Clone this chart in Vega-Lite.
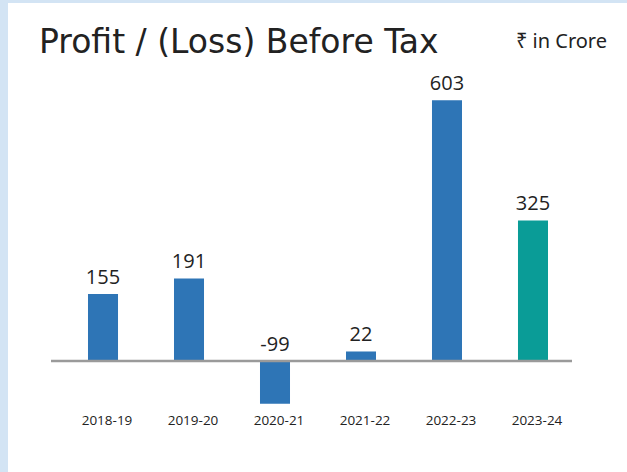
{
  "$schema": "https://vega.github.io/schema/vega-lite/v6.json",
  "width": 619,
  "height": 469,
  "autosize": {"type": "none"},
  "padding": {"left": 8, "top": 3, "right": 0, "bottom": 0},
  "background": "#d3e4f4",
  "config": {"view": {"fill": "white", "stroke": null}},
  "title": {
    "text": "Profit / (Loss) Before Tax",
    "anchor": "start",
    "frame": "group",
    "font": "DejaVu Sans",
    "fontSize": 33,
    "fontWeight": "normal",
    "color": "#222222",
    "dx": 31,
    "offset": -83,
    "baseline": "alphabetic"
  },
  "layer": [
    {
      "data": {
        "values": [
          {"year": "2018-19", "value": 155},
          {"year": "2019-20", "value": 191},
          {"year": "2020-21", "value": -99},
          {"year": "2021-22", "value": 22},
          {"year": "2022-23", "value": 603},
          {"year": "2023-24", "value": 325}
        ]
      },
      "encoding": {
        "x": {
          "field": "year",
          "type": "nominal",
          "sort": null,
          "scale": {"range": [37, 583], "paddingInner": 0.651, "paddingOuter": 0.5},
          "axis": {
            "orient": "bottom",
            "title": null,
            "labelAngle": 0,
            "ticks": false,
            "domain": false,
            "labelFont": "Open Sans",
            "labelFontSize": 13.5,
            "labelColor": "#222222",
            "labelPadding": 5,
            "labelOffset": 4,
            "offset": -64
          }
        }
      },
      "layer": [
        {
          "mark": {"type": "bar"},
          "encoding": {
            "y": {
              "field": "value",
              "type": "quantitative",
              "scale": {"domain": [0, 600], "range": [358, 98.5], "nice": false},
              "axis": null
            },
            "y2": {"datum": 0},
            "color": {
              "condition": {"test": "datum.year === '2023-24'", "value": "#0A9C97"},
              "value": "#2E75B6"
            }
          }
        },
        {
          "transform": [{"filter": "datum.value >= 0"}],
          "mark": {"type": "text", "baseline": "alphabetic", "dy": -10, "font": "Open Sans", "fontSize": 20, "color": "#222222"},
          "encoding": {
            "y": {"field": "value", "type": "quantitative"},
            "text": {"field": "value", "type": "nominal"}
          }
        },
        {
          "transform": [{"filter": "datum.value < 0"}],
          "mark": {"type": "text", "baseline": "alphabetic", "dy": -10, "font": "Open Sans", "fontSize": 20, "color": "#222222"},
          "encoding": {
            "y": {"datum": 0},
            "text": {"field": "value", "type": "nominal"}
          }
        },
        {
          "data": {"values": [{"note": "₹ in Crore"}]},
          "mark": {"type": "text", "align": "right", "baseline": "alphabetic", "dx": 74, "font": "Noto Sans", "fontSize": 20, "color": "#222222"},
          "encoding": {
            "x": {"datum": "2023-24"},
            "y": {"datum": 724},
            "text": {"field": "note", "type": "nominal"}
          }
        }
      ]
    },
    {
      "data": {"values": [{}]},
      "mark": {"type": "rule", "color": "#9a9a9a", "strokeWidth": 2.5},
      "encoding": {
        "x": {"datum": 0, "scale": {"domain": [0, 1], "range": [43, 564]}, "axis": null},
        "x2": {"datum": 1},
        "y": {"datum": 0}
      }
    }
  ],
  "resolve": {"scale": {"x": "independent"}}
}
